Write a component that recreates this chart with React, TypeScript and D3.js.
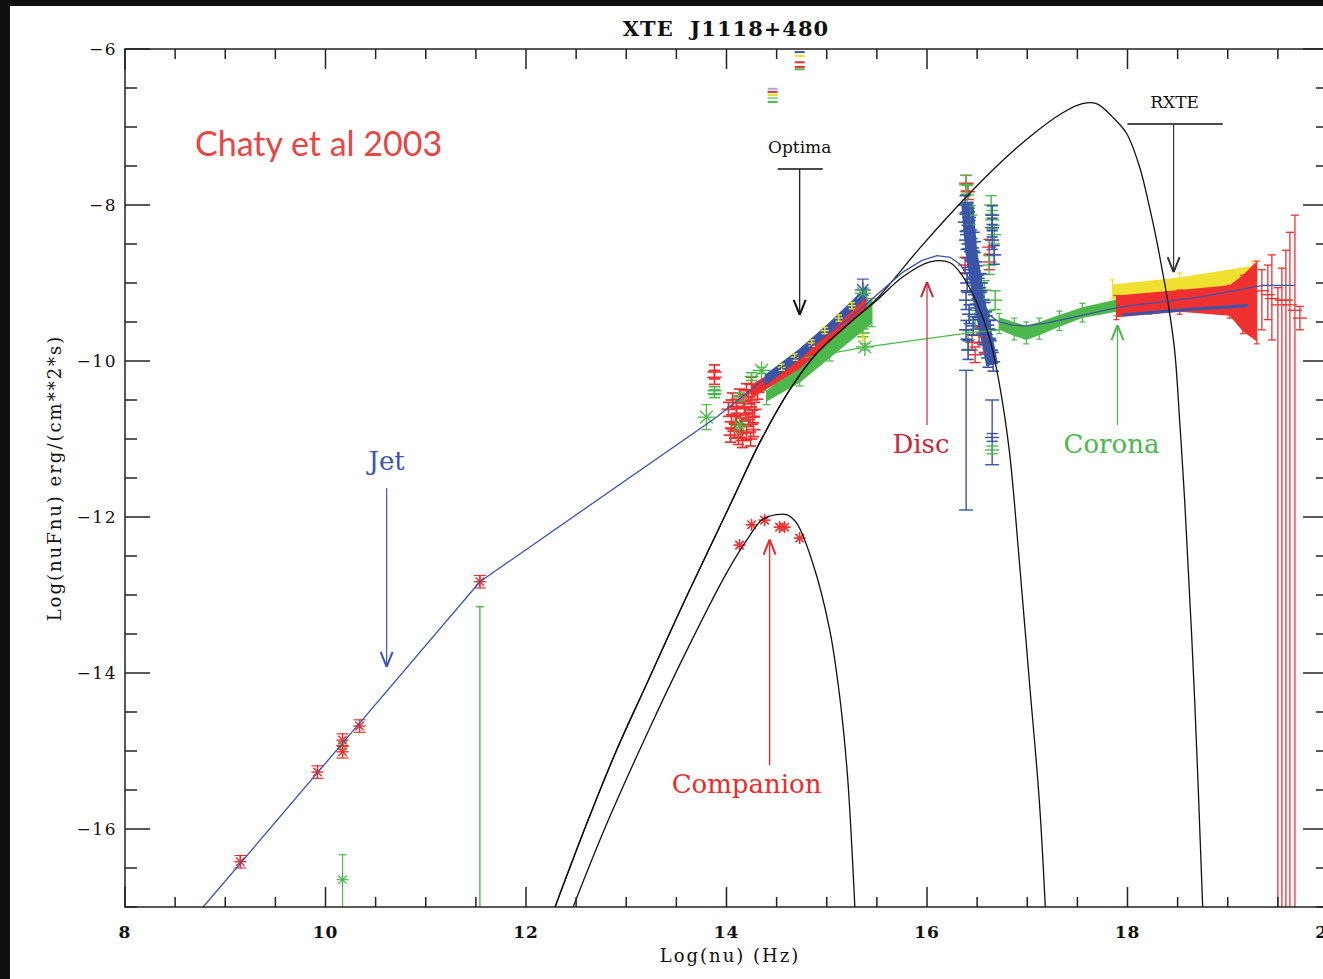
import { select, scaleLinear, line, area, curveLinear, curveCatmullRom } from "d3";
import React, { useEffect, useRef } from "react";

// axis ticks
const xTickLabels = [8, 10, 12, 14, 16, 18, 20];
const yTickLabels = [-6, -8, -10, -12, -14, -16];

// model curves [log nu, log nuFnu]
const totalModel = [
  [8.78, -17.0], [10.17, -14.9], [11.54, -12.83], [13.9, -10.72],
  [14.33, -10.28], [14.73, -9.92], [15.23, -9.45], [15.5, -9.15], [15.76, -8.86], [15.95, -8.71],
  [16.1, -8.65], [16.23, -8.67], [16.33, -8.76], [16.42, -8.94], [16.52, -9.18], [16.62, -9.41],
  [16.72, -9.5], [16.85, -9.54], [16.99, -9.55], [17.2, -9.51], [17.42, -9.45], [17.92, -9.31],
  [18.72, -9.18], [19.35, -9.03], [19.67, -9.03],
];
const discModel = [
  [12.29, -17.0], [12.6, -15.95], [12.9, -15.0], [13.2, -14.15], [13.5, -13.3], [13.83, -12.4],
  [14.06, -11.78], [14.33, -11.05], [14.63, -10.37], [14.9, -9.9], [15.23, -9.51],
  [15.5, -9.22], [15.76, -8.92], [16.03, -8.73], [16.23, -8.74], [16.36, -8.92],
  [16.5, -9.26], [16.62, -9.69], [16.71, -10.21], [16.82, -11.14], [16.92, -12.55],
  [17.02, -14.09], [17.12, -15.63], [17.18, -17.0],
];
const outerModel = [
  [12.29, -17.0], [12.6, -15.95], [12.9, -15.0], [13.2, -14.15], [13.5, -13.3], [13.83, -12.4],
  [14.06, -11.78], [14.33, -11.05], [14.63, -10.37], [14.9, -9.9], [15.23, -9.51],
  [15.5, -9.2], [15.93, -8.55], [16.36, -7.94], [16.69, -7.51], [17.02, -7.13],
  [17.35, -6.82], [17.55, -6.7], [17.69, -6.7], [17.85, -6.87], [17.99, -7.08],
  [18.12, -7.51], [18.22, -8.03], [18.29, -8.45], [18.35, -8.86], [18.4, -9.22],
  [18.47, -9.86], [18.52, -10.76], [18.57, -11.78], [18.67, -14.35], [18.75, -17.0],
];
const companionModel = [
  [12.47, -17.0], [12.8, -15.95], [13.2, -14.8], [13.6, -13.72], [14.0, -12.72], [14.2, -12.3],
  [14.36, -12.03], [14.5, -11.97], [14.6, -11.97], [14.7, -12.08], [14.86, -12.59],
  [15.03, -13.45], [15.13, -14.31], [15.21, -15.37], [15.28, -17.0],
];
const coronaLine = [[14.78, -9.96], [15.4, -9.82], [16.42, -9.64], [16.72, -9.6]];

// radio + companion asterisks [x, y]
const radioRed = [
  [9.15, -16.42], [9.92, -15.27], [10.17, -14.86], [10.17, -15.01], [10.34, -14.68], [11.54, -12.83],
];
const radioGreen = [[10.17, -16.65, -16.33, -17.2], [10.17, -14.93, -14.88, -14.98]];
const mmLimit = [[11.54, -13.15, -17.2]];
const companionPts = [
  [14.13, -12.36], [14.25, -12.1], [14.38, -12.04], [14.53, -12.13], [14.58, -12.13], [14.73, -12.27],
];

// IR / optical points
const irRed = [
  [13.88, -10.14], [13.88, -10.21], [14.02, -10.62], [14.05, -10.78], [14.08, -10.9], [14.1, -10.7],
  [14.12, -10.98], [14.15, -10.82], [14.18, -10.6], [14.2, -10.92], [14.22, -10.75], [14.25, -10.5],
  [14.27, -10.88], [14.13, -10.45], [14.2, -10.38], [14.25, -10.3], [14.28, -10.62], [14.06, -10.5],
  [14.16, -11.02], [14.24, -11.0], [14.1, -10.58], [14.19, -10.68], [14.04, -10.95], [14.14, -10.9],
  [14.22, -10.46], [14.09, -10.8], [14.26, -10.72], [14.17, -10.52], [14.31, -10.4],
];
const irGreen = [
  [13.88, -10.38], [13.88, -10.42], [14.13, -10.46], [14.25, -10.2], [15.36, -9.64],
];
const irGreenStars = [[13.8, -10.72, -10.56, -10.88], [14.13, -10.83, -10.8, -10.86], [14.35, -10.12, -10.08, -10.16], [15.38, -9.82, -9.78, -9.86]];
const opticalBlue = [[14.38, -10.18, -10.32], [14.73, -9.84, -9.98], [15.03, -9.5, -9.63], [15.4, -9.04, -9.18]];
const opticalRed = [[14.25, -10.3, -10.48], [14.73, -9.93, -10.1], [15.03, -9.57, -9.76], [15.4, -9.12, -9.32]];
const opticalGreen = [[14.4, -10.38, -10.52], [14.73, -10.02, -10.28], [15.03, -9.66, -9.96], [15.45, -9.2, -9.52]];
const opticalYellow = [
  [14.55, -10.08], [14.68, -9.95], [14.85, -9.77], [14.98, -9.61], [15.12, -9.45], [15.25, -9.29], [15.36, -9.7],
];
const opticalTopStars = [[15.36, -9.09], [15.36, -9.13]];

// short marks near the top
const topMarks = [
  [14.73, -6.04, "#3a55a8"], [14.73, -6.09, "#f0e030"], [14.73, -6.17, "#ee3030"], [14.73, -6.23, "#ee3030"],
  [14.73, -6.26, "#4cb84c"], [14.46, -6.51, "#a8a8e0"], [14.46, -6.55, "#ee3030"], [14.46, -6.59, "#f0e030"],
  [14.46, -6.63, "#8cd88c"], [14.46, -6.68, "#4cb84c"],
];

// EUV / soft X-ray cluster
const euvSpine = [[16.4, -7.96], [16.44, -8.58], [16.52, -9.22], [16.6, -9.73], [16.65, -10.05]];
const euvBlue = [
  [16.38, -8.0], [16.41, -8.09], [16.38, -8.22], [16.43, -8.32], [16.39, -8.45], [16.45, -8.55],
  [16.41, -8.68], [16.48, -8.73], [16.43, -8.83], [16.5, -8.9], [16.45, -8.99], [16.52, -9.06],
  [16.48, -9.15], [16.55, -9.22], [16.5, -9.32], [16.58, -9.37], [16.53, -9.47], [16.6, -9.54],
  [16.56, -9.64], [16.62, -9.71], [16.58, -9.79], [16.64, -9.86], [16.61, -9.96], [16.66, -10.01],
  [16.39, -9.22], [16.39, -9.6], [16.41, -9.86], [16.65, -8.13], [16.65, -8.29], [16.65, -8.45],
  [16.67, -8.64], [16.4, -9.0], [16.42, -9.4], [16.46, -9.55], [16.44, -8.6], [16.4, -8.38],
  [16.47, -8.47], [16.54, -9.0], [16.57, -9.55], [16.63, -9.6], [16.42, -8.16],
];
const euvGreen = [
  [16.39, -7.74], [16.4, -7.87], [16.43, -8.13], [16.64, -8.0], [16.65, -8.19], [16.67, -8.38],
  [16.62, -8.77], [16.57, -9.09], [16.48, -9.47], [16.41, -9.73], [16.68, -9.22], [16.62, -9.47],
];
const euvRed = [
  [16.39, -7.72], [16.41, -7.83], [16.62, -8.54], [16.45, -9.76], [16.57, -9.79], [16.48, -9.92],
  [16.62, -8.73], [16.38, -8.77], [16.52, -9.67],
];
const euvLongBars = [[16.39, -10.12, -11.91, "#3a55a8"], [16.65, -10.5, -11.33, "#3a55a8"]];
const euvLow = [[16.65, -11.14, "#4cb84c"], [16.65, -10.98, "#3a55a8"]];

// RXTE corona bands [x, top, bottom]
const coronaGreen = [
  [16.72, -9.44, -9.6], [16.87, -9.5, -9.68], [16.99, -9.55, -9.73], [17.12, -9.5, -9.67],
  [17.32, -9.41, -9.56], [17.55, -9.31, -9.45], [17.89, -9.21, -9.37], [18.22, -9.18, -9.35],
];
const coronaYellow = [[17.85, -9.02, -9.2], [18.52, -8.93, -9.12], [19.25, -8.78, -9.0]];
const coronaRed = [[17.89, -9.16, -9.44], [18.52, -9.09, -9.37], [19.02, -9.03, -9.42], [19.15, -8.9, -9.62], [19.29, -8.72, -9.75]];
const coronaBlue = [[17.95, -9.39, -9.43], [18.6, -9.32, -9.36], [19.2, -9.27, -9.31]];

// hard X-ray points [x, y, top, bottom]
const hardRed = [
  [19.34, -9.1, -8.83, -9.6], [19.4, -9.15, -8.77, -9.47], [19.44, -9.2, -8.64, -9.73],
  [19.5, -9.28, -9.06, -17.5], [19.54, -9.22, -8.81, -17.5], [19.58, -9.22, -8.58, -17.5],
  [19.62, -9.28, -8.35, -17.5], [19.67, -9.35, -8.13, -17.5], [19.72, -9.45, -9.3, -9.6],
];

const BLUE = "#3a55a8";
const RED = "#ee3030";
const GREEN = "#4cb84c";
const YELLOW = "#f0e030";

const App = () => {
  const svgRef = useRef(null);

  useEffect(() => {
    const svg = select(svgRef.current);
    svg.selectAll("*").remove();

    const x = scaleLinear().domain([8, 20]).range([125, 1328]);
    const y = scaleLinear().domain([-17, -6]).range([907, 49]);

    // background
    svg.append("rect").attr("width", 1323).attr("height", 979).attr("fill", "#101010");
    svg.append("rect").attr("x", 10).attr("y", 6).attr("width", 1313).attr("height", 973).attr("fill", "#fff");

    svg.append("clipPath").attr("id", "plotclip")
      .append("rect").attr("x", 125).attr("y", 49).attr("width", 1203).attr("height", 858);

    const plot = svg.append("g").attr("clip-path", "url(#plotclip)");

    const seg = (g, x1, y1, x2, y2, color, w = 1) =>
      g.append("line").attr("x1", x1).attr("y1", y1).attr("x2", x2).attr("y2", y2)
        .attr("stroke", color).attr("stroke-width", w);

    const star = (g, cx, cy, color, r = 6, w = 1.4) => {
      [0, 45, 90, 135].forEach((a) => {
        const dx = r * Math.cos((a * Math.PI) / 180);
        const dy = r * Math.sin((a * Math.PI) / 180);
        seg(g, cx - dx, cy - dy, cx + dx, cy + dy, color, w);
      });
    };

    const errPoint = (g, px, top, bottom, color, hw = 7, w = 1.2) => {
      const cx = x(px);
      seg(g, cx, y(top), cx, y(bottom), color, w);
      seg(g, cx - hw, y(top), cx + hw, y(top), color, w);
      seg(g, cx - hw, y(bottom), cx + hw, y(bottom), color, w);
    };

    const cross = (g, px, py, color, hw = 7, vh = 0.12, w = 1.2) => {
      errPoint(g, px, py + vh, py - vh, color, hw * 0.8, w);
      seg(g, x(px) - hw, y(py), x(px) + hw, y(py), color, w);
    };

    const band = (data, color) => {
      plot.append("path").datum(data)
        .attr("d", area().x((d) => x(d[0])).y0((d) => y(d[1])).y1((d) => y(d[2])).curve(curveLinear))
        .attr("fill", color);
    };

    const curve = (data, color, w = 1.3, smooth = true) => {
      plot.append("path").datum(data)
        .attr("d", line().x((d) => x(d[0])).y((d) => y(d[1]))
          .curve(smooth ? curveCatmullRom.alpha(0.5) : curveLinear))
        .attr("fill", "none").attr("stroke", color).attr("stroke-width", w);
    };

    // top marks
    topMarks.forEach((d) => seg(plot, x(d[0]) - 5, y(d[1]), x(d[0]) + 5, y(d[1]), d[2], 2));

    // optical / IR
    irRed.forEach((d) => cross(plot, d[0], d[1], RED, 7, 0.09, 1.7));
    irGreen.forEach((d) => cross(plot, d[0], d[1], GREEN, 7, 0.05, 1.6));
    irGreenStars.forEach((d) => {
      errPoint(plot, d[0], d[2], d[3], GREEN, 5);
      star(plot, x(d[0]), y(d[1]), GREEN, 9, 1.3);
    });
    band(opticalGreen, GREEN);
    opticalGreen.forEach((d) => errPoint(plot, d[0], d[1], d[2] - 0.04, GREEN, 4));
    band(opticalRed, RED);
    band(opticalBlue, BLUE);
    opticalYellow.forEach((d) => cross(plot, d[0], d[1], YELLOW, 4, 0.04, 1.4));
    opticalTopStars.forEach((d, i) => star(plot, x(d[0]), y(d[1]), i ? GREEN : BLUE, 8, 1.4));
    errPoint(plot, 15.36, -8.95, -9.22, BLUE, 6);

    // corona data
    band(coronaGreen, GREEN);
    coronaGreen.forEach((d) => errPoint(plot, d[0], d[1] + 0.05, d[2] - 0.05, GREEN, 3));
    band(coronaYellow, YELLOW);
    coronaYellow.forEach((d) => errPoint(plot, d[0], d[1] + 0.06, d[2], YELLOW, 3));
    band(coronaRed, RED);
    coronaRed.forEach((d) => errPoint(plot, d[0], d[1], d[2] - 0.03, RED, 3));
    band(coronaBlue, BLUE);

    // hard X-ray
    hardRed.forEach((d) => {
      errPoint(plot, d[0], d[2], d[3], RED, 4, 1.3);
      seg(plot, x(d[0]) - 7, y(d[1]), x(d[0]) + 7, y(d[1]), RED, 1.3);
    });

    // EUV cluster
    euvLongBars.forEach((d) => errPoint(plot, d[0], d[1], d[2], d[3], 7, 1.4));
    euvLow.forEach((d) => cross(plot, d[0], d[1], d[2], 7, 0.05, 1.4));
    plot.append("path").datum(euvSpine)
      .attr("d", line().x((d) => x(d[0])).y((d) => y(d[1])))
      .attr("fill", "none").attr("stroke", BLUE).attr("stroke-width", 12);
    euvRed.forEach((d) => cross(plot, d[0], d[1], RED, 7, 0.1, 1.4));
    euvGreen.forEach((d) => cross(plot, d[0], d[1], GREEN, 7, 0.12, 1.4));
    euvBlue.forEach((d) => cross(plot, d[0], d[1], BLUE, 7, 0.12, 1.6));

    // radio
    mmLimit.forEach((d) => errPoint(plot, d[0], d[1], d[2], GREEN, 4, 1.4));
    radioGreen.forEach((d) => {
      errPoint(plot, d[0], d[2], d[3], GREEN, 4, 1.2);
      star(plot, x(d[0]), y(d[1]), GREEN, 6, 1.2);
    });
    radioRed.forEach((d) => {
      errPoint(plot, d[0], d[1] + 0.08, d[1] - 0.08, RED, 6, 1.2);
      star(plot, x(d[0]), y(d[1]), RED, 6, 1.4);
    });
    companionPts.forEach((d) => star(plot, x(d[0]), y(d[1]), RED, 6, 1.6));

    // models
    curve(coronaLine, GREEN, 1.2, false);
    curve(companionModel, "#111", 1.3);
    curve(discModel, "#111", 1.3);
    curve(outerModel, "#111", 1.3);
    curve(totalModel, BLUE, 1.3, false);

    // frame and ticks
    const axisColor = "#222";
    svg.append("rect").attr("x", 125).attr("y", 49).attr("width", 1203).attr("height", 858)
      .attr("fill", "none").attr("stroke", axisColor).attr("stroke-width", 1.5);

    x.ticks(24).forEach((t) => {
      const major = Math.abs(t % 2) < 1e-6;
      const len = major ? 20 : 10;
      seg(svg, x(t), 907, x(t), 907 - len, axisColor, 1.5);
      seg(svg, x(t), 49, x(t), 49 + len, axisColor, 1.5);
    });
    y.ticks(22).forEach((t) => {
      const major = Math.abs(t % 2) < 1e-6;
      const len = major ? 25 : 12;
      seg(svg, 125, y(t), 125 + len, y(t), axisColor, 1.5);
      seg(svg, 1328, y(t), 1328 - len, y(t), axisColor, 1.5);
    });

    const font = "'DejaVu Serif', serif";
    svg.selectAll(".xlab").data(xTickLabels).join("text").attr("class", "xlab")
      .attr("x", (d) => x(d)).attr("y", 938).attr("text-anchor", "middle")
      .attr("font-family", font).attr("font-size", 17).attr("font-weight", "bold").attr("fill", "#111")
      .attr("letter-spacing", 1).text((d) => d);
    svg.selectAll(".ylab").data(yTickLabels).join("text").attr("class", "ylab")
      .attr("x", 117).attr("y", (d) => y(d) + 6).attr("text-anchor", "end")
      .attr("font-family", font).attr("font-size", 17).attr("fill", "#111")
      .attr("letter-spacing", 1.5).text((d) => "\u2212" + Math.abs(d));

    svg.append("text").attr("x", 726).attr("y", 36).attr("text-anchor", "middle")
      .attr("font-family", font).attr("font-size", 21).attr("font-weight", "bold").attr("fill", "#111")
      .attr("letter-spacing", 1).attr("xml:space", "preserve").text("XTE  J1118+480");
    svg.append("text").attr("x", 730).attr("y", 962).attr("text-anchor", "middle")
      .attr("font-family", font).attr("font-size", 18).attr("fill", "#111")
      .attr("letter-spacing", 2).text("Log(nu) (Hz)");
    svg.append("text").attr("transform", "translate(61,478) rotate(-90)").attr("text-anchor", "middle")
      .attr("font-family", font).attr("font-size", 18).attr("fill", "#111")
      .attr("letter-spacing", 2).text("Log(nuFnu) erg/(cm**2*s)");

    svg.append("text").attr("x", 195).attr("y", 156)
      .attr("font-family", "Lato, sans-serif").attr("font-size", 34).attr("fill", "#e84545")
      .text("Chaty et al 2003");

    // annotations
    const label = (tx, ty, text, color, size) =>
      svg.append("text").attr("x", x(tx)).attr("y", y(ty)).attr("text-anchor", "middle")
        .attr("font-family", font).attr("font-size", size).attr("fill", color).text(text);
    const arrow = (ax, from, to, color, w = 1.2) => {
      const dir = to < from ? 1 : -1;
      seg(svg, x(ax), y(from), x(ax), y(to), color, w);
      seg(svg, x(ax), y(to), x(ax) - 6, y(to) - dir * 15, color, 2);
      seg(svg, x(ax), y(to), x(ax) + 6, y(to) - dir * 15, color, 2);
    };

    label(10.61, -11.4, "Jet", BLUE, 26);
    arrow(10.61, -11.63, -13.92, BLUE);
    label(15.94, -11.18, "Disc", "#c8283a", 26);
    arrow(16.0, -10.82, -8.99, "#c8283a");
    label(17.84, -11.18, "Corona", GREEN, 26);
    arrow(17.9, -10.82, -9.54, GREEN);
    label(14.2, -15.54, "Companion", "#ee2a2a", 26);
    arrow(14.43, -15.18, -12.29, "#ee2a2a", 1.4);

    label(14.73, -7.33, "Optima", "#111", 17);
    seg(svg, x(14.51), y(-7.54), x(14.96), y(-7.54), "#111", 1.5);
    arrow(14.73, -7.54, -9.41, "#111");
    label(18.47, -6.76, "RXTE", "#111", 17);
    seg(svg, x(18.0), y(-6.96), x(18.95), y(-6.96), "#111", 1.5);
    arrow(18.46, -6.96, -8.86, "#333");
  }, []);

  return (
    <div style={{ position: "fixed", left: 0, top: 0 }}>
      <svg ref={svgRef} width={1323} height={979} />
    </div>
  );
};

export default App;
